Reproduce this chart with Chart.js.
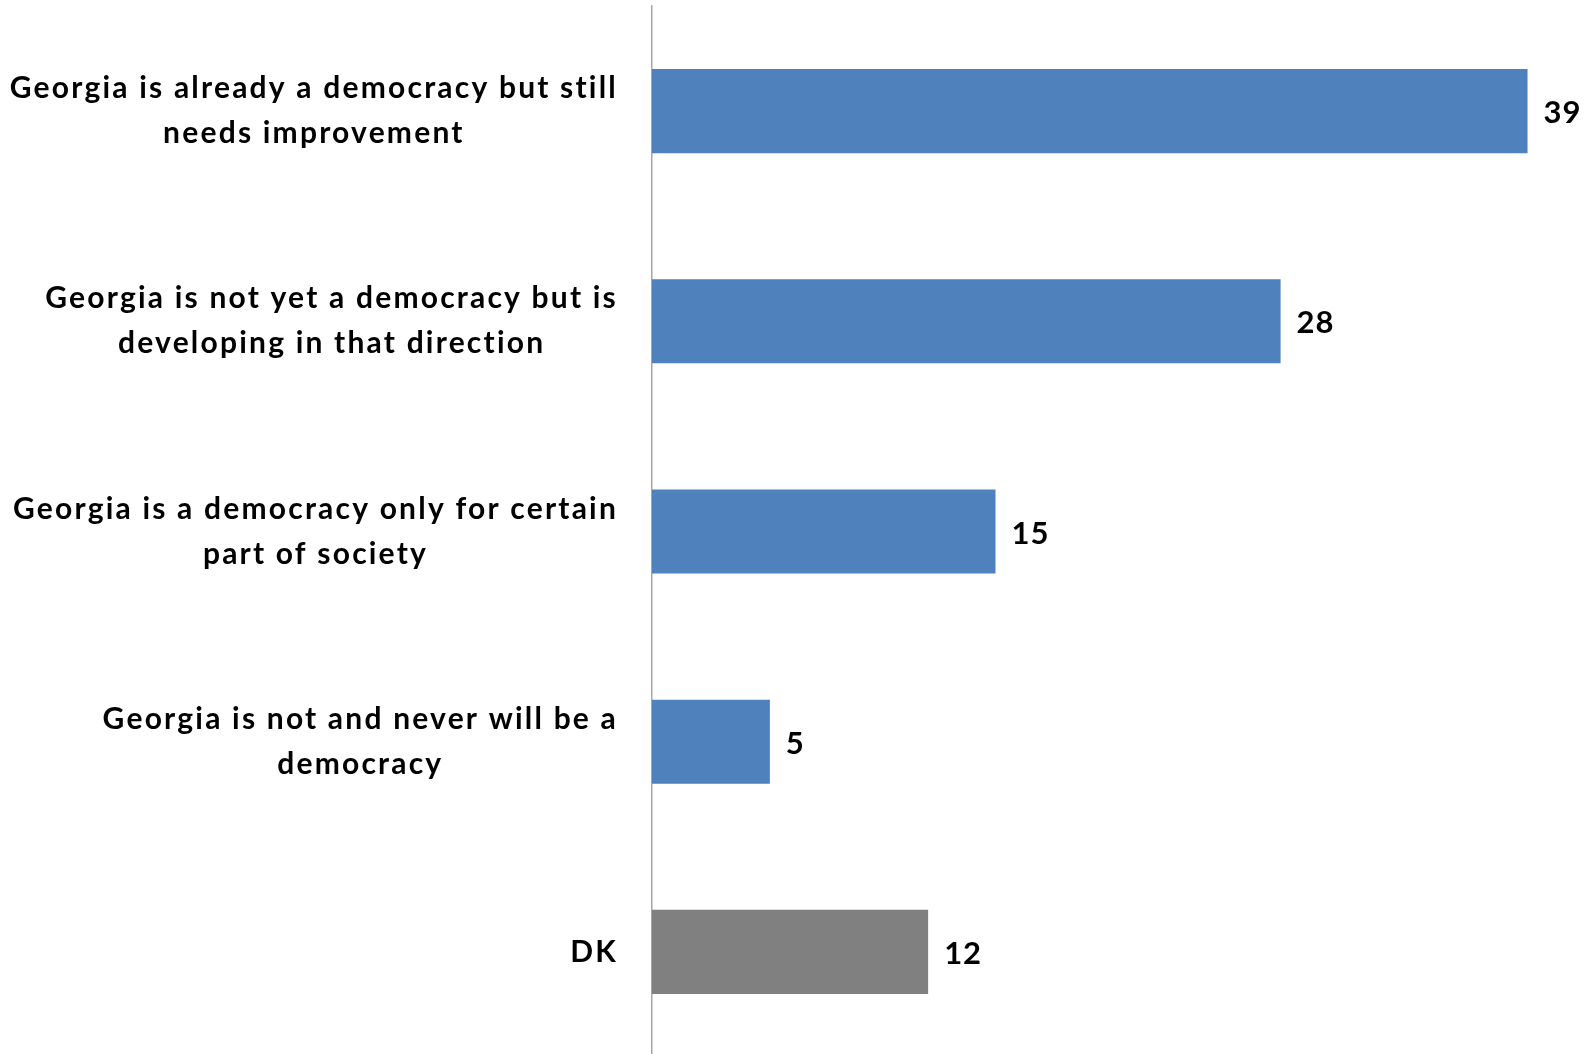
<!DOCTYPE html>
<html><head><meta charset="utf-8">
<script src="https://cdn.jsdelivr.net/npm/chart.js@4/dist/chart.umd.min.js"></script>
<style>html,body{margin:0;padding:0;background:#fff;overflow:hidden;}#wrap{width:1589px;height:1057px;}</style>
</head><body><div id="wrap"><canvas id="c"></canvas></div>
<script>
const categories = [
  ["Georgia is already a democracy but still", "needs improvement"],
  ["Georgia is not yet a democracy but is", "developing in that direction"],
  ["Georgia is a democracy only for certain", "part of society"],
  ["Georgia is not and never will be a", "democracy"],
  ["DK"]
];
// bar lengths; printed labels below
const values = [39, 28, 15.3, 5.25, 12.3];
const valueLabels = ["39", "28", "15", "5", "12"];
const barColors = ["#4f81bd", "#4f81bd", "#4f81bd", "#4f81bd", "#808080"];
const FONT = "Lato, 'Open Sans', sans-serif";

const labelPlugin = {
  id: 'labels',
  afterDraw(chart) {
    const ctx = chart.ctx;
    const y = chart.scales.y;
    ctx.save();
    ctx.fillStyle = '#000';
    ctx.textBaseline = 'middle';
    ctx.font = 'bold 30px ' + FONT;
    if ('letterSpacing' in ctx) ctx.letterSpacing = '2.2px';
    const rightEdge = 618;
    const lh = 45;
    categories.forEach((lines, i) => {
      const cy = y.getPixelForValue(i);
      const w = Math.max(...lines.map(l => ctx.measureText(l).width));
      const cx = rightEdge - w / 2;
      ctx.textAlign = 'center';
      lines.forEach((l, j) => {
        const ly = cy + (j - (lines.length - 1) / 2) * lh;
        ctx.fillText(l, cx, ly);
      });
    });
    ctx.font = 'bold 31px ' + FONT;
    if ('letterSpacing' in ctx) ctx.letterSpacing = '1px';
    ctx.textAlign = 'left';
    const meta = chart.getDatasetMeta(0);
    meta.data.forEach((bar, i) => {
      ctx.fillText(valueLabels[i], bar.x + 16, bar.y + 2);
    });
    ctx.restore();
  }
};

new Chart(document.getElementById('c'), {
  type: 'bar',
  data: {
    labels: categories,
    datasets: [{
      data: values,
      backgroundColor: barColors,
      borderWidth: 0,
      barPercentage: 0.4,
      categoryPercentage: 1.0
    }]
  },
  options: {
    indexAxis: 'y',
    responsive: true,
    maintainAspectRatio: false,
    animation: false,
    layout: { padding: { left: 652, right: 39, top: 6, bottom: 0 } },
    plugins: { legend: { display: false }, tooltip: { enabled: false } },
    scales: {
      x: { min: 0, max: 40, display: false },
      y: {
        grid: { display: false, drawTicks: false },
        ticks: { display: false },
        border: { display: true, color: '#a6a6a6', width: 1.5 }
      }
    }
  },
  plugins: [labelPlugin]
});
</script></body></html>
